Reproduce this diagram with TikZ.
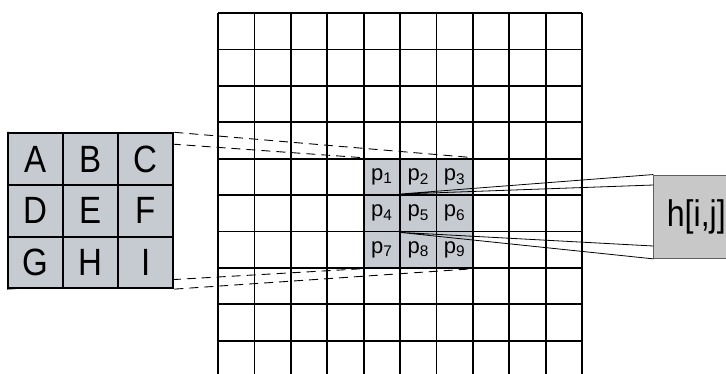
\documentclass[tikz,border=0pt]{standalone}
\usepackage{fontspec}
\setmainfont{Liberation Sans}
\newfontfamily\tallfont[FakeStretch=0.87]{Liberation Sans}
\usetikzlibrary{backgrounds}
\definecolor{maskgray}{RGB}{198,202,209}
\definecolor{outgray}{RGB}{200,200,200}
\definecolor{outedge}{RGB}{95,95,95}

\begin{document}
\begin{tikzpicture}
      [ x=1pt, y=-1pt
      , mask/.style={draw=black, line width=2pt, fill=maskgray, inner sep=0pt,
          minimum width=55.1pt, minimum height=51.6pt,
          font=\tallfont\fontsize{38}{38}\selectfont}
      , pix/.style={draw=black, line width=1.8pt, fill=maskgray, inner sep=0pt,
          minimum size=36.4pt, font=\fontsize{22}{22}\selectfont}
      , window/.style={black, line width=0.9pt, dash pattern=on 9pt off 6pt}
      , lead/.style={black, line width=0.8pt}
      , result/.style={draw=outedge, line width=1pt, fill=outgray, inner xsep=13pt,
          minimum height=83.3pt, font=\tallfont\fontsize{37}{37}\selectfont}
      ]
    \useasboundingbox (0,0) rectangle (726,373);
    \clip (0,0) rectangle (726,373);

    % image grid
    \foreach \k in {0,...,10}
      {
      \draw[black, line width=1.8pt] (218+36.4*\k,13) -- (218+36.4*\k,377);
      \draw[black, line width=1.8pt] (218,13+36.4*\k) -- (582,13+36.4*\k);
      }

    % pixels under the mask
    \node[pix] (p1) at (381.8,176.8) {p\textsubscript{1}};
    \node[pix] (p2) at (418.2,176.8) {p\textsubscript{2}};
    \node[pix] (p3) at (454.6,176.8) {p\textsubscript{3}};
    \node[pix] (p4) at (381.8,213.2) {p\textsubscript{4}};
    \node[pix] (p5) at (418.2,213.2) {p\textsubscript{5}};
    \node[pix] (p6) at (454.6,213.2) {p\textsubscript{6}};
    \node[pix] (p7) at (381.8,249.6) {p\textsubscript{7}};
    \node[pix] (p8) at (418.2,249.6) {p\textsubscript{8}};
    \node[pix] (p9) at (454.6,249.6) {p\textsubscript{9}};

    % mask
    \node[mask] (A) at (35.6,159.1) {A};
    \node[mask] (B) at (90.7,159.1) {B};
    \node[mask] (C) at (145.8,159.1) {C};
    \node[mask] (D) at (35.6,210.7) {D};
    \node[mask] (E) at (90.7,210.7) {E};
    \node[mask] (F) at (145.8,210.7) {F};
    \node[mask] (G) at (35.6,262.3) {G};
    \node[mask] (H) at (90.7,262.3) {H};
    \node[mask] (I) at (145.8,262.3) {I};

    \begin{scope}[on background layer]
    \draw[window]
    (A.north west) -- (p1.north west)
    (C.north east) -- (p3.north east)
    (G.south west) -- (p7.south west)
    (I.south east) -- (p9.south east);
    \end{scope}

    % output
    \node[result, anchor=west] (h) at (653.3,216.7) {h[i,j]};
    \coordinate (hup) at (653.3,185);
    \coordinate (hlow) at (653.3,246);

    \draw[lead]
    (p5.north west) -- (h.north west)
    (p5.north west) -- (hup)
    (p5.south west) -- (hlow)
    (p5.south west) -- (h.south west);
\end{tikzpicture}
\end{document}
